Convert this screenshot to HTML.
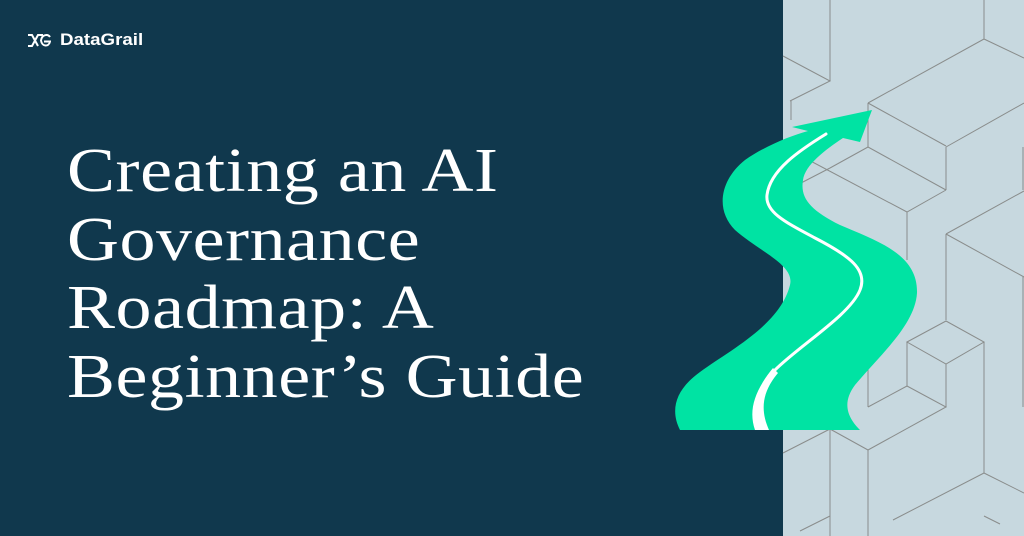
<!DOCTYPE html>
<html><head><meta charset="utf-8"><style>
html,body{margin:0;padding:0}
body{width:1024px;height:536px;background:#10384d;position:relative;overflow:hidden;font-family:"Liberation Sans",sans-serif}
.logo{position:absolute;left:27px;top:30px;color:#fff;font-weight:bold;font-size:17px;display:flex;align-items:center;gap:9px}
.logo span{display:inline-block;transform:scaleX(1.1);transform-origin:left}
h1{position:absolute;left:67px;top:137px;margin:0;color:#fff;font-family:"Liberation Serif",serif;font-weight:normal;font-size:62px;line-height:68.5px;letter-spacing:0.5px;transform:scaleX(1.16);transform-origin:left top;white-space:nowrap}
svg.art{position:absolute;left:0;top:0}
</style></head><body>
<svg class="art" width="1024" height="536" viewBox="0 0 1024 536">
<rect x="783" y="0" width="241" height="536" fill="#c7d8df"/>
<g stroke="#8a8d8c" stroke-width="1" fill="none">
<path d="M830 0V81M783 56L830 81L790 101M791 101V120"/>
<path d="M868 103L984 39M984 0V39L1024 58M868 103L946 146M868 103V147M946 147V190M946 147L1024 103"/>
<path d="M868 147L946 190M830 168L868 147M801 183L830 168"/>
<path d="M803 157L907 212L946 190M907 212V260"/>
<path d="M946 234L1024 191M946 234L1024 277M946 234V320M1023 147V190M1023 277V407"/>
<path d="M907 342L946 321L984 342L946 364ZM907 342V386M946 364V407M984 342V473"/>
<path d="M868 407L907 386L946 407L868 450M868 450V536M868 300V407"/>
<path d="M830 429L868 450M783 453L830 429M830 429V536"/>
<path d="M984 473L1024 493M984 473L893 520M830 516L800 531M984 516L1000 524"/>
</g>
<path fill="#00e3a3" d="M680 430 C670 410 675 390 700 372 C730 350 780 325 790 285 C795 265 760 252 735 230 C715 210 720 180 745 160 C765 146 790 136 808 131 L792 127 L872 110 L860 142 L843 138 C825 150 805 165 803 180 C800 198 810 210 840 225 C880 242 918 255 917 293 C915 325 880 355 855 385 C840 405 850 420 860 430 Z"/>
<path fill="none" stroke="#fff" stroke-width="3" stroke-linecap="round" d="M826 134 C800 150 770 170 767 195 C765 212 785 222 815 238 C850 256 868 270 860 290 C850 315 800 345 775 370"/>
<path fill="#fff" d="M773 368 L778 373 C762 392 760 410 769 430 L755 430 C748 410 755 390 773 368Z"/>
</svg>
<div class="logo"><svg width="24" height="15" viewBox="0 0 24 15"><path d="M1 2H5L11 13M1 13H5L11 2H16M23 4C21 1 15 1 14 7.5C15 14 22 14 23 8.5H17" stroke="#fff" stroke-width="2" fill="none"/></svg><span>DataGrail</span></div>
<h1>Creating an AI<br>Governance<br>Roadmap: A<br>Beginner’s Guide</h1>
</body></html>
